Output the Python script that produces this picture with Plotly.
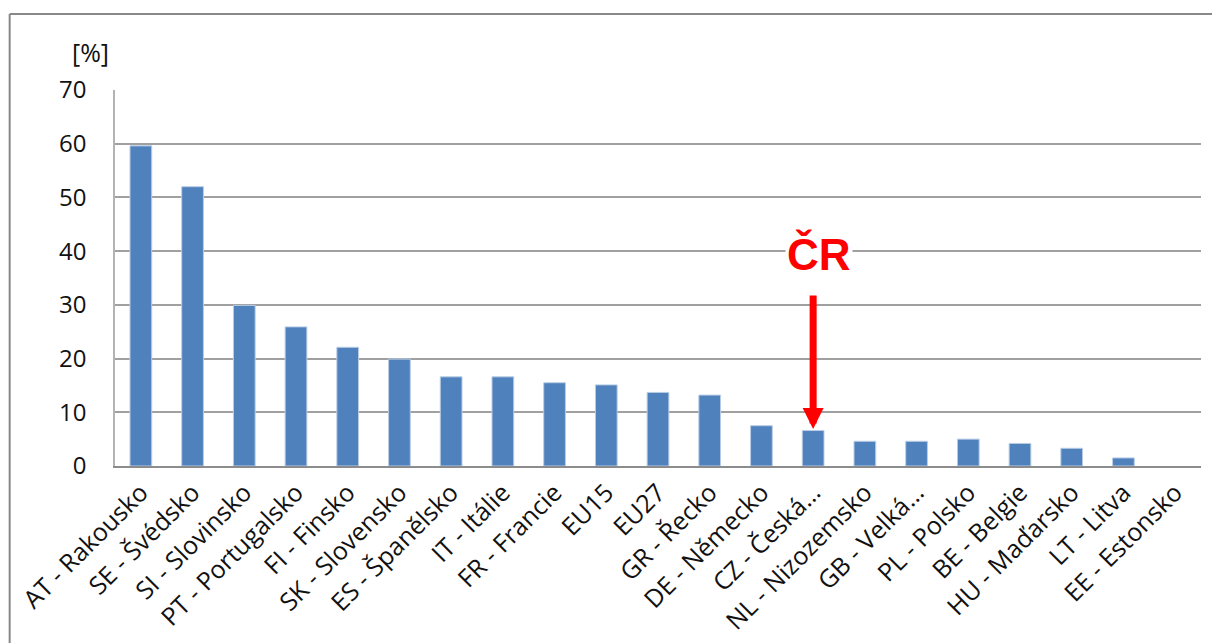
import plotly.graph_objects as go

categories = [
    "AT - Rakousko", "SE - Švédsko", "SI - Slovinsko", "PT - Portugalsko",
    "FI - Finsko", "SK - Slovensko", "ES - Španělsko", "IT - Itálie",
    "FR - Francie", "EU15", "EU27", "GR - Řecko", "DE - Německo",
    "CZ - Česká…", "NL - Nizozemsko", "GB - Velká…", "PL - Polsko",
    "BE - Belgie", "HU - Maďarsko", "LT - Litva", "EE - Estonsko",
]
values = [59.6, 52.0, 29.9, 25.9, 22.1, 19.9, 16.6, 16.6, 15.5, 15.1,
          13.7, 13.2, 7.5, 6.6, 4.6, 4.6, 5.0, 4.2, 3.3, 1.5, 0.0]
y_ticks = [0, 10, 20, 30, 40, 50, 60, 70]
highlight = "CZ - Česká…"
highlight_label = "ČR"

# empty bars get no outline
outline_widths = [1 if v > 0 else 0 for v in values]

fig = go.Figure()
fig.add_trace(go.Bar(
    x=categories, y=values,
    marker=dict(color="#4F81BD", line=dict(color="#B9CDE5", width=outline_widths)),
    width=0.42,
))

# arrow pointing down to the Czech bar
hv = values[categories.index(highlight)]
fig.add_annotation(
    x=highlight, y=hv + 0.3, ax=highlight, ay=32,
    xref="x", yref="y", axref="x", ayref="y",
    showarrow=True, arrowhead=2, arrowsize=0.6, arrowwidth=7,
    arrowcolor="#FF0000", text="",
)
fig.add_annotation(
    x=highlight, y=39.5, xref="x", yref="y",
    text="<b>%s</b>" % highlight_label, showarrow=False,
    font=dict(family="Liberation Sans, Arial", size=44, color="#FF0000"),
    bgcolor="white", borderpad=1, xshift=6,
)

# axis unit label
fig.add_annotation(
    x=-0.023, y=1.101, xref="paper", yref="paper", text="[%]",
    showarrow=False, xanchor="center", yanchor="middle",
    font=dict(family="Open Sans, DejaVu Sans", size=25, color="#111111"),
)

# outer frame
fig.add_shape(type="line", xref="paper", yref="paper",
              x0=-0.097, x1=1.02, y0=1.202, y1=1.202,
              line=dict(color="#888888", width=2))
fig.add_shape(type="line", xref="paper", yref="paper",
              x0=-0.097, x1=-0.097, y0=1.202, y1=-0.6,
              line=dict(color="#888888", width=2))

fig.update_layout(
    width=1212, height=643,
    margin=dict(l=115, r=11, t=90, b=177),
    plot_bgcolor="white", paper_bgcolor="white",
    showlegend=False,
    font=dict(family="Open Sans, DejaVu Sans", color="#111111"),
    xaxis=dict(
        tickangle=-45, tickfont=dict(size=25, color="#111111"),
        showline=True, linecolor="#8C8C8C", linewidth=2,
        showgrid=False, ticks="", automargin=False,
    ),
    yaxis=dict(
        range=[0, 70], tickvals=y_ticks,
        tickfont=dict(size=24, color="#111111"),
        showgrid=True, gridcolor="#A0A0A0", gridwidth=1.5,
        showline=True, linecolor="#B3B3B3", linewidth=1.5,
        zeroline=False, ticks="", ticklabelstandoff=22, automargin=False,
    ),
)

fig.write_html("out.html")
